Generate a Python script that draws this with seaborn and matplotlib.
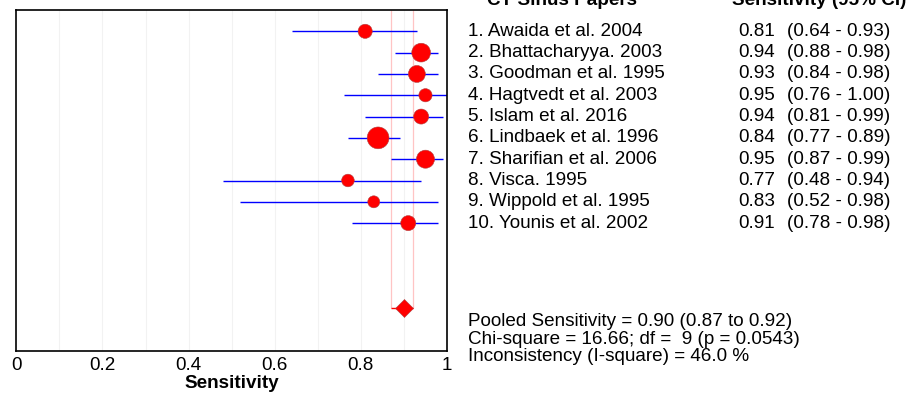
import numpy as np
import pandas as pd
import matplotlib
matplotlib.use("Agg")
import matplotlib.pyplot as plt
import matplotlib.transforms as mtransforms
import seaborn as sns

studies = ["1. Awaida et al. 2004", "2. Bhattacharyya. 2003", "3. Goodman et al. 1995",
           "4. Hagtvedt et al. 2003", "5. Islam et al. 2016", "6. Lindbaek et al. 1996",
           "7. Sharifian et al. 2006", "8. Visca. 1995", "9. Wippold et al. 1995",
           "10. Younis et al. 2002"]
sens = [0.81, 0.94, 0.93, 0.95, 0.94, 0.84, 0.95, 0.77, 0.83, 0.91]
ci_low = [0.64, 0.88, 0.84, 0.76, 0.81, 0.77, 0.87, 0.48, 0.52, 0.78]
ci_high = [0.93, 0.98, 0.98, 1.00, 0.99, 0.89, 0.99, 0.94, 0.98, 0.98]
weights = [7.8, 13.7, 11.2, 6.8, 8.8, 18.5, 12.7, 6.2, 5.6, 8.8]
pooled = 0.90
pooled_low = 0.87
pooled_high = 0.92
xticks = [0, 0.2, 0.4, 0.6, 0.8, 1]
xticklabels = ["0", "0.2", "0.4", "0.6", "0.8", "1"]
stats_lines = ["Pooled Sensitivity = 0.90 (0.87 to 0.92)",
               "Chi-square = 16.66; df =  9 (p = 0.0543)",
               "Inconsistency (I-square) = 46.0 %"]

sns.set_theme(style="white")
plt.rcParams["font.family"] = ["Liberation Sans", "DejaVu Sans"]
plt.rcParams["text.color"] = "black"
plt.rcParams["axes.labelcolor"] = "black"
plt.rcParams["xtick.color"] = "black"
FS = 13.6

df = pd.DataFrame({"study": studies, "sens": sens, "lo": ci_low, "hi": ci_high,
                   "w": weights})
df["row"] = np.arange(1, len(df) + 1)
pooled_row = len(df) + 4

fig = plt.figure(figsize=(9.06, 3.96), dpi=100)
W, H = 906, 396
ax = fig.add_axes([16.3 / W, 1 - 351 / H, (447 - 16.3) / W, (351 - 10) / H])

# light grid
for g in np.arange(0.1, 0.95, 0.1):
    ax.axvline(g, color="#f2f2f2", lw=0.8, zorder=0)

# pooled CI vertical lines
ax.vlines([pooled_low, pooled_high], 0, pooled_row, color="#ffc4c4", lw=0.9, zorder=1)

# CI lines
ax.hlines(df["row"], df["lo"], df["hi"], color="#0000ff", lw=1.0, zorder=2)

# point estimates
msize = df["w"] * (5.07 ** 2) * 0.5184
sns.scatterplot(data=df, x="sens", y="row", s=msize, color="#ff0000",
                edgecolor="#b04040", linewidth=0.4, ax=ax, zorder=3, legend=False)

# pooled diamond
ax.hlines([pooled_row], pooled_low, pooled_high, color="#ff0000", lw=1.0, zorder=2)
ax.plot([pooled], [pooled_row], marker="D", markersize=9.5, color="#ff0000",
        markeredgecolor="#b04040", markeredgewidth=0.4, zorder=4)

ax.set_xlim(0, 1)
ax.set_ylim(16, 0)
ax.set_yticks([])
ax.set_xticks(xticks)
ax.set_xticklabels(xticklabels, fontsize=FS)
ax.tick_params(axis="x", length=0, pad=4, colors="black")
ax.set_xlabel("Sensitivity", fontsize=FS, fontweight="bold", labelpad=1, color="black")
ax.set_ylabel("")
for sp in ax.spines.values():
    sp.set_visible(True)
    sp.set_color("black")
    sp.set_linewidth(1.2)

# text table
tr = mtransforms.blended_transform_factory(fig.transFigure, ax.transData)
head_y = -0.22
ax.text(487 / W, head_y, "CT Sinus Papers", transform=tr, fontsize=FS,
        fontweight="bold", va="baseline", ha="left", clip_on=False)
ax.text(732 / W, head_y, "Sensitivity (95% CI)", transform=tr, fontsize=FS,
        fontweight="bold", va="baseline", ha="left", clip_on=False)
for r, name, s_, lo, hi in zip(df["row"], studies, sens, ci_low, ci_high):
    ax.text(468 / W, r, name, transform=tr, fontsize=FS, va="center", ha="left",
            clip_on=False)
    ax.text(738 / W, r, f"{s_:.2f}", transform=tr, fontsize=FS, va="center",
            ha="left", clip_on=False)
    ax.text(787 / W, r, f"({lo:.2f} - {hi:.2f})", transform=tr, fontsize=FS,
            va="center", ha="left", clip_on=False)

for i, line in enumerate(stats_lines):
    fig.text(468 / W, 1 - (322 + i * 17.3) / H, line, fontsize=FS, va="center",
             ha="left")

fig.savefig("out.png", dpi=100)
